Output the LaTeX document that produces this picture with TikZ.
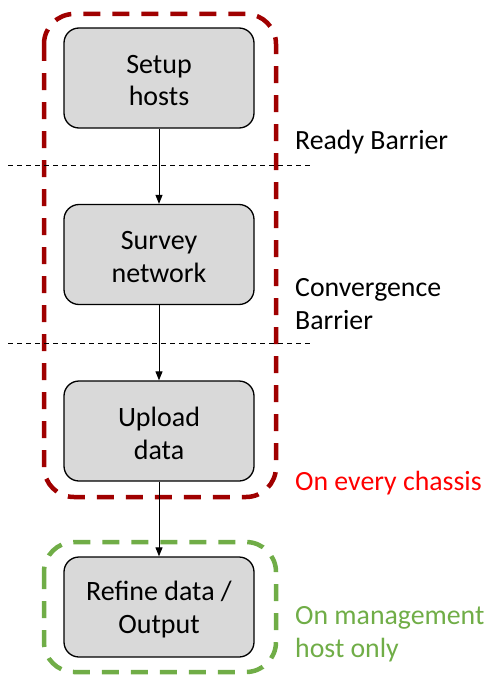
\documentclass[tikz,border=0pt]{standalone}
\usepackage{fontspec}
\setmainfont{Carlito}
\usetikzlibrary{arrows.meta}
\definecolor{boxgray}{HTML}{D9D9D9}
\definecolor{darkred}{HTML}{A00000}
\definecolor{brightred}{HTML}{FF0000}
\definecolor{mgreen}{HTML}{70AD47}
\tikzset{
  stepbox/.style={draw=black, line width=1.3pt, fill=boxgray, rounded corners=15pt,
    minimum width=190pt, minimum height=100pt, inner sep=0pt},
  steptext/.style={align=center, font=\fontsize{28}{32.5}\selectfont, inner sep=0pt},
  flow/.style={draw=black, line width=0.9pt, -{Triangle[length=9pt,width=7pt]}},
  barrier/.style={draw=black, line width=0.9pt, dash pattern=on 5pt off 4pt},
  groupbox/.style={line width=4.5pt, rounded corners=30pt, dash pattern=on 17pt off 12pt},
  lbl/.style={anchor=west, align=left, font=\fontsize{27.8}{32.5}\selectfont, inner sep=0pt}
}
\begin{document}
\begin{tikzpicture}[x=1pt, y=-1pt]
\useasboundingbox (0,0) rectangle (487,677);
% group boxes
\draw[groupbox, draw=darkred] (44,14) rectangle (276,497);
\draw[groupbox, draw=mgreen] (44,542) rectangle (276,672);
% barrier lines
\coordinate (b1l) at (8,165);
\coordinate (b1r) at (310,165);
\coordinate (b2l) at (8,343);
\coordinate (b2r) at (310,343);
\draw[barrier] (b1l) -- (b1r);
\draw[barrier] (b2l) -- (b2r);
% steps
\node[stepbox] (setup) at (159,78) {};
\node[stepbox] (survey) at (159,254.5) {};
\node[stepbox] (upload) at (159,431) {};
\node[stepbox] (refine) at (159,607) {};
\node[steptext] (setuptxt) at ([yshift=-2.5pt]setup.center) {Setup\\hosts};
\node[steptext] (surveytxt) at ([yshift=-2.5pt]survey.center) {Survey\\network};
\node[steptext] (uploadtxt) at ([yshift=-2.5pt]upload.center) {Upload\\data};
\node[steptext] (refinetxt) at ([yshift=-2.5pt]refine.center) {Refine data /\\Output};
% connectors
\draw[flow] (setup) -- (survey);
\draw[flow] (survey) -- (upload);
\draw[flow] (upload) -- (refine);
% labels
\node[lbl] (ready) at (295,142) {Ready Barrier};
\node[lbl] (conv) at (295,304) {Convergence\\Barrier};
\node[lbl, text=brightred] (every) at (295,483) {On every chassis};
\node[lbl, text=mgreen] (mgmt) at (295,634) {On management\\host only};
\end{tikzpicture}
\end{document}
